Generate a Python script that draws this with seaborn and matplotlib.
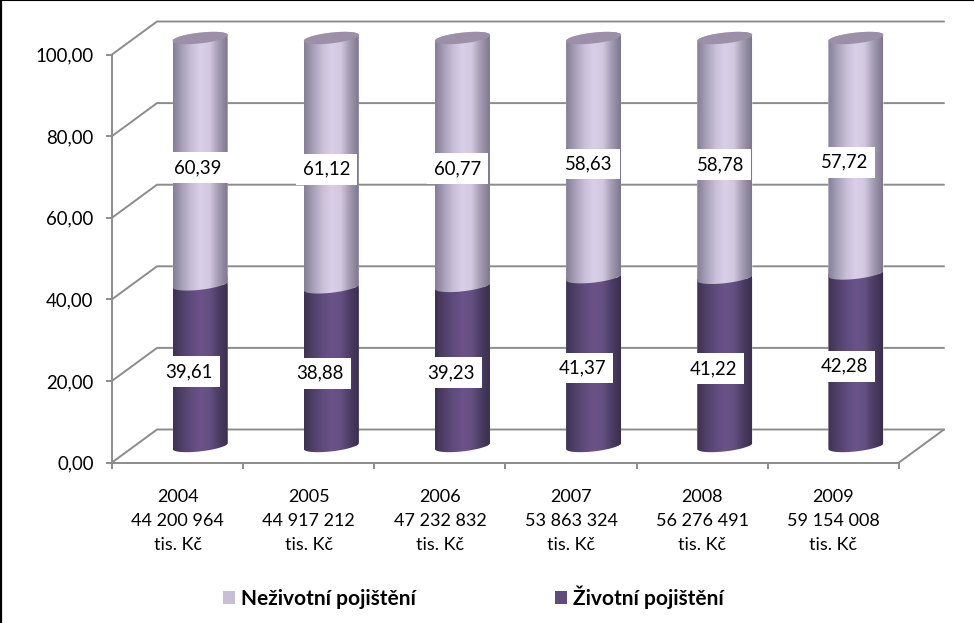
# -*- coding: utf-8 -*-
"""Stacked cylinder chart: share of life and non-life insurance, 2004-2009"""

import numpy as np
import pandas as pd
import matplotlib
matplotlib.use("Agg")
import matplotlib.pyplot as plt
from matplotlib.colors import LinearSegmentedColormap
from matplotlib.lines import Line2D
from matplotlib.patches import Patch, Polygon
from matplotlib.path import Path
import seaborn as sns

# data
years = ["2004", "2005", "2006", "2007", "2008", "2009"]
totals = ["44 200 964", "44 917 212", "47 232 832", "53 863 324", "56 276 491", "59 154 008"]
zivotni = [39.61, 38.88, 39.23, 41.37, 41.22, 42.28]
nezivotni = [60.39, 61.12, 60.77, 58.63, 58.78, 57.72]
y_ticks = [0, 20, 40, 60, 80, 100]

# style
W, H = 974, 623
LEFT, RIGHT, BOTTOM, TOP = 112, 899, 462.5, 54.5   # plot box in pixels
DEPTH_X, DEPTH_Y = 45, 33                          # 3D wall depth in pixels
GREY = "#8c8c8c"
FONT = 13.4

sns.set_theme(style="white")
plt.rcParams["font.family"] = ["Lato", "DejaVu Sans"]

cmap_light = LinearSegmentedColormap.from_list(
    "light", ["#857e96", "#a89fb8", "#c8bed6", "#d9cfe8", "#d2c8e0", "#a39ab2", "#7d768c"])
cmap_dark = LinearSegmentedColormap.from_list(
    "dark", ["#3e3352", "#4f4069", "#5f4b7c", "#6b5289", "#645082", "#4c3d64", "#3a2f4d"])

df = pd.DataFrame({"year": years, "zivotni": zivotni, "nezivotni": nezivotni})

fig = plt.figure(figsize=(W / 100, H / 100), dpi=100, facecolor="white")
ax = fig.add_axes([LEFT / W, 1 - BOTTOM / H, (RIGHT - LEFT) / W, (BOTTOM - TOP) / H])

# pixels -> data units
px_x = 6 / (RIGHT - LEFT)
px_y = 100 / (BOTTOM - TOP)
dx, dy = DEPTH_X * px_x, DEPTH_Y * px_y

# bars, life first so the upper segment's curved base sits over it
bar_w = 55 * px_x
sns.barplot(data=df, x="year", y="zivotni", color="#5f4b7c", width=bar_w, saturation=1, ax=ax, zorder=3)
n_life = len(ax.patches)
sns.barplot(data=df, x="year", y="nezivotni", bottom=df["zivotni"], color="#c8bed6", width=bar_w,
            saturation=1, ax=ax, zorder=4)

ax.set_xlim(-0.5, 5.5)
ax.set_ylim(0, 100)


def rim(cx, y, t):
    # points on the tilted ellipse of a cylinder section
    a, b, s = bar_w / 2, 5.4 * px_y, 3 * px_y
    return cx + a * np.cos(t), y + b * np.sin(t) + s * np.cos(t)


gradient = np.linspace(0, 1, 256).reshape(1, -1)
for k, bar in enumerate(ax.patches):
    # the 3D depth moves the bar halfway back from the front plane
    bar.set_x(bar.get_x() + dx / 2)
    bar.set_y(bar.get_y() + dy / 2)
    x0, w = bar.get_x(), bar.get_width()
    y0, y1 = bar.get_y(), bar.get_y() + bar.get_height()
    cx = x0 + w / 2
    life = k < n_life

    low_x, low_y = rim(cx, y0, np.linspace(np.pi, 2 * np.pi, 60))
    if life:
        top_x, top_y = np.array([x0 + w, x0]), np.array([y1, y1]) + 8 * px_y
    else:
        top_x, top_y = rim(cx, y1, np.linspace(0, np.pi, 60))
    outline = np.column_stack([np.r_[low_x, top_x], np.r_[low_y, top_y]])
    shape = Path(np.vstack([outline, outline[0]]), closed=True)
    bar.set_clip_path(shape, ax.transData)
    bar.set_clip_box(fig.bbox)

    img = ax.imshow(gradient, cmap=cmap_dark if life else cmap_light, aspect="auto",
                    extent=(x0, x0 + w, y0 - 8 * px_y, y1 + 8 * px_y),
                    zorder=3 if life else 4)
    img.set_clip_path(shape, ax.transData)
    img.set_clip_box(fig.bbox)

    if not life:
        ex, ey = rim(cx, y1, np.linspace(0, 2 * np.pi, 90))
        ax.add_patch(Polygon(np.column_stack([ex, ey]), closed=True, fc="#9c90a8", ec="none",
                             zorder=5, clip_on=False))

ax.set_xlim(-0.5, 5.5)
ax.set_ylim(0, 100)

# back wall and floor
for v in y_ticks:
    ax.plot([-0.5, -0.5 + dx, 5.5 + dx], [v, v + dy, v + dy], color=GREY, lw=1.4, zorder=1,
            clip_on=False, solid_joinstyle="miter")
ax.plot([5.5, 5.5 + dx], [0, dy], color=GREY, lw=1.4, zorder=1, clip_on=False)

# axes
sns.despine(ax=ax, top=True, right=True)
for side in ["left", "bottom"]:
    ax.spines[side].set_color(GREY)
    ax.spines[side].set_linewidth(1.4)
ax.set_xlabel("")
ax.set_ylabel("")
ax.set_yticks(y_ticks, [f"{v:.2f}".replace(".", ",") for v in y_ticks])
ax.set_xticks(range(len(years)), [f"{y}\n{t}\ntis. Kč" for y, t in zip(years, totals)])
ax.set_xticks(np.arange(-0.5, 6), minor=True)
ax.tick_params(axis="y", left=True, length=4.3, width=1.4, color=GREY, pad=9, labelsize=FONT, labelcolor="black")
ax.tick_params(axis="x", which="major", bottom=False, length=0, pad=19, labelsize=13, labelcolor="black")
ax.tick_params(axis="x", which="minor", bottom=True, length=4.3, width=1.4, color=GREY)
for lab in ax.get_xticklabels():
    lab.set_linespacing(1.62)
ax.patch.set_alpha(0)

# value labels, offsets in pixels
upper_shift = [20, 18, 18, 18, 18, 11.4]
box = dict(fc="white", ec="none", pad=5.0)
for i in range(len(years)):
    ax.annotate(f"{zivotni[i]:.2f}".replace(".", ","), xy=(i, zivotni[i] / 2), xytext=(11.4, 10),
                textcoords="offset pixels", ha="center", va="center", fontsize=FONT, color="black",
                bbox=box, zorder=7, annotation_clip=False)
    ax.annotate(f"{nezivotni[i]:.2f}".replace(".", ","), xy=(i, zivotni[i] + nezivotni[i] / 2),
                xytext=(upper_shift[i], 10), textcoords="offset pixels", ha="center", va="center",
                fontsize=FONT, color="black", bbox=box, zorder=7, annotation_clip=False)

# legend
handles = [Patch(fc="#c8bed6", ec="none", label="Neživotní pojištění"),
           Patch(fc="#5f4b7c", ec="none", label="Životní pojištění")]
fig.legend(handles=handles, loc="center", bbox_to_anchor=(473.5 / W, 1 - 597 / H), ncols=2, frameon=False,
           prop=dict(size=15, weight="bold"), labelcolor="black", handlelength=0.56, handleheight=0.62,
           handletextpad=0.3, columnspacing=6.7)

# black border of the original screenshot, top and left only
fig.add_artist(Line2D([0.001, 0.001], [0, 1], color="black", lw=1.6))
fig.add_artist(Line2D([0, 1], [0.9995, 0.9995], color="black", lw=0.8))

fig.savefig("out.png", dpi=100)
